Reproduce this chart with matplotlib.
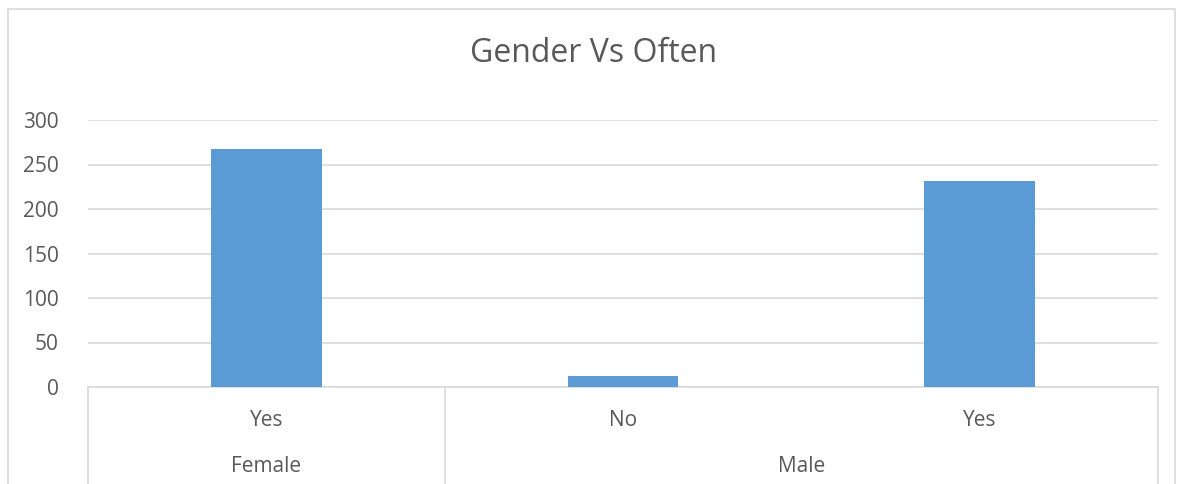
import matplotlib
matplotlib.use("Agg")
from matplotlib import pyplot as plt
from matplotlib import transforms
from matplotlib.patches import Rectangle

# data
genders = ["Female", "Male", "Male"]
often = ["Yes", "No", "Yes"]
counts = [267, 12, 232]

bar_color = "#5b9bd5"
text_color = "#595959"
line_color = "#d9d9d9"

plt.rcParams['font.family'] = ['Open Sans', 'DejaVu Sans']

W, H = 1181, 484
fig = plt.figure(figsize=(W / 100, H / 100), dpi=100)

# chart border
fig.patches.append(Rectangle((8 / W, -0.05), (1175 - 8) / W, 1.05 - 9 / H,
                             transform=fig.transFigure, fill=False,
                             edgecolor=line_color, linewidth=1.2))

ax = fig.add_axes([88 / W, (H - 387) / H, (1158 - 88) / W, 267 / H])
x = list(range(len(counts)))
ax.bar(x, counts, width=0.31, color=bar_color, zorder=3)
ax.set_xlim(-0.5, len(counts) - 0.5)
ax.set_ylim(0, 300)
ax.set_yticks(range(0, 301, 50))
ax.yaxis.grid(True, color=line_color, linewidth=1.2)
ax.set_axisbelow(True)
for s in ["top", "right", "left"]:
    ax.spines[s].set_visible(False)
ax.spines["bottom"].set_color(line_color)
ax.spines["bottom"].set_linewidth(1.2)
ax.tick_params(axis="y", length=0, pad=21, labelsize=15, labelcolor=text_color)
ax.set_xticks([])

# multi-level category axis
tr = transforms.blended_transform_factory(ax.transData, fig.transFigure)
for xi, lab in zip(x, often):
    ax.text(xi, 1 - 420 / H, lab, transform=tr, ha="center", va="center",
            fontsize=15, color=text_color)

groups = []
for i, g in enumerate(genders):
    if groups and groups[-1][0] == g:
        groups[-1][2] = i
    else:
        groups.append([g, i, i])
edges = [groups[0][1] - 0.5] + [g[2] + 0.5 for g in groups]
for e in edges:
    ax.plot([e, e], [(H - 387) / H, -0.05], transform=tr, color=line_color,
            linewidth=1.2, clip_on=False)
for g, a, b in groups:
    ax.text((a + b) / 2, 1 - 467 / H, g, transform=tr, ha="center", va="center",
            fontsize=15, color=text_color)

fig.text(0.503, 1 - 54 / H, "Gender Vs Often", ha="center",
         va="center", fontsize=23, color=text_color)

fig.savefig("out.png", dpi=100)
